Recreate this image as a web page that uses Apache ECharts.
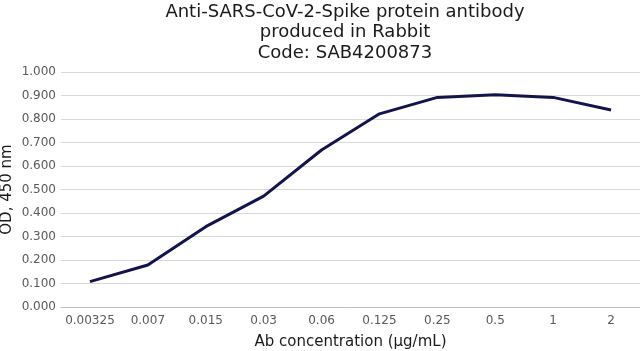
<!DOCTYPE html>
<html><head><meta charset="utf-8">
<script src="https://cdn.jsdelivr.net/npm/echarts@6/dist/echarts.min.js"></script>
<style>html,body{margin:0;padding:0;background:#fff}#c{width:640px;height:351px}</style>
</head><body><div id="c"></div>
<script>
const categories = ['0.00325','0.007','0.015','0.03','0.06','0.125','0.25','0.5','1','2'];
const odValues = [0.108,0.179,0.342,0.472,0.668,0.822,0.892,0.903,0.892,0.838];
const titleLines = ['Anti-SARS-CoV-2-Spike protein antibody','produced in Rabbit','Code: SAB4200873'];
const FONT = '"DejaVu Sans", Verdana, sans-serif';
const chart = echarts.init(document.getElementById('c'), null, {renderer:'canvas'});
chart.setOption({
  animation:false,
  backgroundColor:'#fff',
  title:{
    text:titleLines.join('\n'),
    left:340, top:-3, textAlign:'center',
    textStyle:{fontFamily:FONT,fontSize:18,fontWeight:'normal',color:'#1a1a1a',lineHeight:20.5}
  },
  grid:{left:61,right:0,top:72,bottom:44,containLabel:false,outerBoundsMode:'none'},
  xAxis:{
    type:'category', data:categories, boundaryGap:true,
    name:'Ab concentration (µg/mL)', nameLocation:'middle', nameGap:28, nameMoveOverlap:false,
    nameTextStyle:{fontFamily:FONT,fontSize:15,color:'#1a1a1a'},
    axisLine:{show:true,lineStyle:{color:'#bfbfbf',width:1}},
    axisTick:{show:false},
    axisLabel:{fontFamily:FONT,fontSize:12,color:'#595959',margin:8,interval:0,hideOverlap:false}
  },
  yAxis:{
    type:'value', min:0, max:1, interval:0.1,
    name:'OD, 450 nm', nameLocation:'middle', nameGap:46, nameRotate:90, nameMoveOverlap:false,
    nameTextStyle:{fontFamily:FONT,fontSize:15,color:'#1a1a1a'},
    axisLine:{show:false}, axisTick:{show:false},
    splitLine:{lineStyle:{color:'#d9d9d9',width:1}},
    axisLabel:{fontFamily:FONT,fontSize:12,color:'#595959',margin:5,formatter:v=>v.toFixed(3)}
  },
  series:[{
    type:'line', data:odValues, symbol:'none',
    lineStyle:{color:'#14144d',width:3}
  }]
});
</script></body></html>
